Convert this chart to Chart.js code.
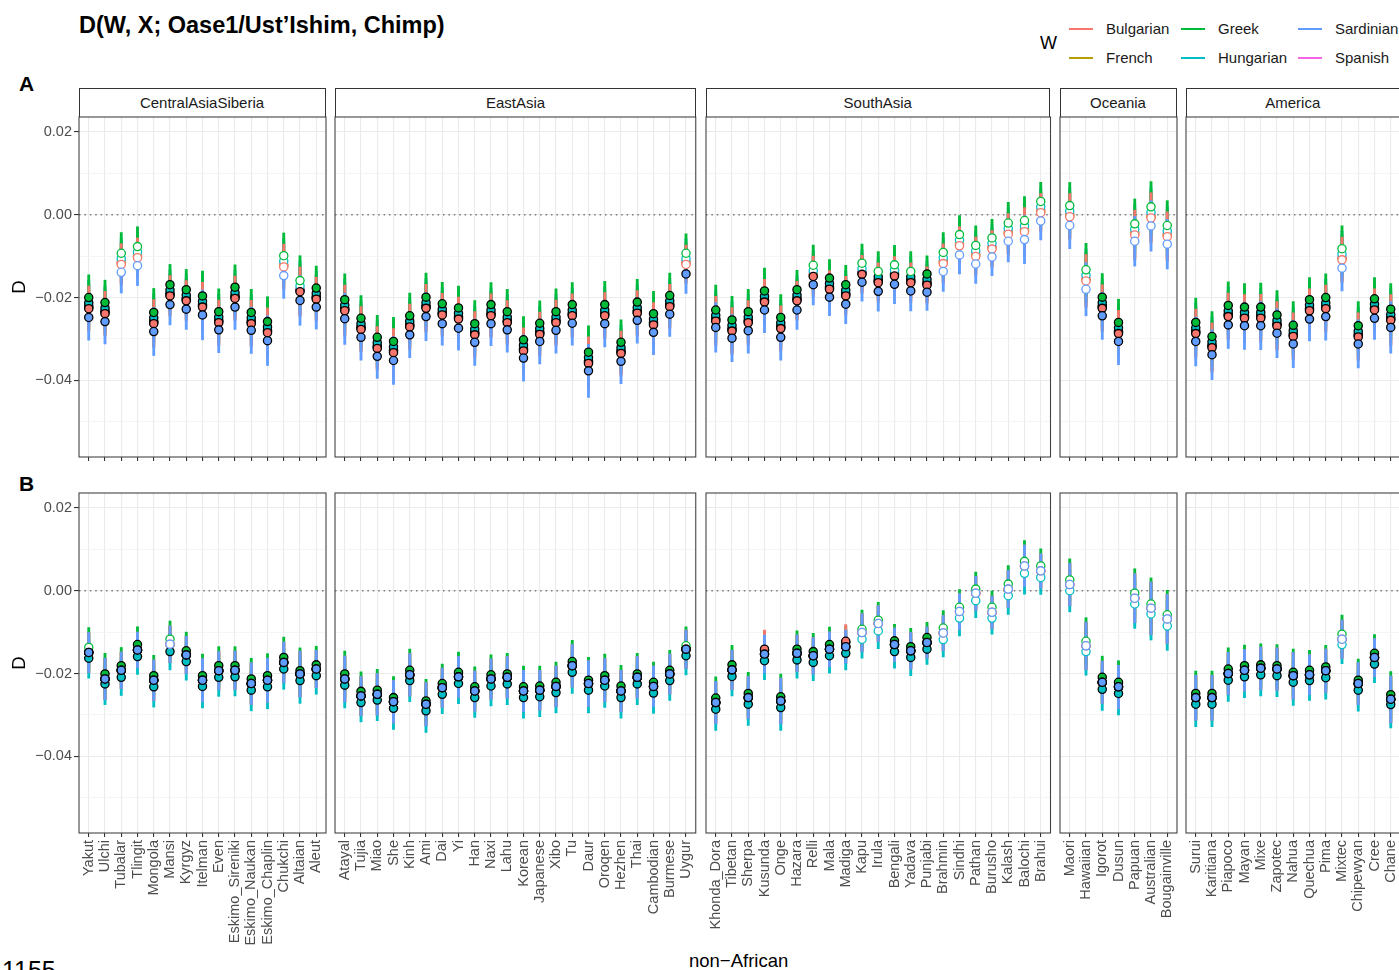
<!DOCTYPE html>
<html>
<head>
<meta charset="utf-8">
<script src="https://cdn.jsdelivr.net/npm/chart.js@4.4.1/dist/chart.umd.min.js"></script>
<style>
  body { margin: 0; width: 1399px; height: 970px; overflow: hidden; background: #fff; position: relative;
         font-family: 'Liberation Sans', Arial, sans-serif; }
  canvas { position: absolute; }
  .txt { position: absolute; white-space: nowrap; }
  .strip { position: absolute; box-sizing: border-box; border: 1px solid #333; border-bottom: none; background: #fff;
           color: #1a1a1a; font-size: 15px; line-height: 28px; text-align: center; }
  .key { position: absolute; height: 2px; width: 24px; }
</style>
</head>
<body>
<script>
// ─── Data ───
const series = ['Bulgarian', 'French', 'Greek', 'Hungarian', 'Sardinian', 'Spanish'];
const seriesColors = ['#F8766D', '#B79F00', '#00BA38', '#00BFC4', '#619CFF', '#F564E3'];

const regions = ['CentralAsiaSiberia', 'EastAsia', 'SouthAsia', 'Oceania', 'America'];
const popsCentralAsiaSiberia = ['Yakut', 'Ulchi', 'Tubalar', 'Tlingit', 'Mongola', 'Mansi', 'Kyrgyz', 'Itelman', 'Even',
  'Eskimo_Sireniki', 'Eskimo_Naukan', 'Eskimo_Chaplin', 'Chukchi', 'Altaian', 'Aleut'];
const popsEastAsia = ['Atayal', 'Tujia', 'Miao', 'She', 'Kinh', 'Ami', 'Dai', 'Yi', 'Han', 'Naxi', 'Lahu', 'Korean',
  'Japanese', 'Xibo', 'Tu', 'Daur', 'Oroqen', 'Hezhen', 'Thai', 'Cambodian', 'Burmese', 'Uygur'];
const popsSouthAsia = ['Khonda_Dora', 'Tibetan', 'Sherpa', 'Kusunda', 'Onge', 'Hazara', 'Relli', 'Mala', 'Madiga', 'Kapu',
  'Irula', 'Bengali', 'Yadava', 'Punjabi', 'Brahmin', 'Sindhi', 'Pathan', 'Burusho', 'Kalash', 'Balochi', 'Brahui'];
const popsOceania = ['Maori', 'Hawaiian', 'Igorot', 'Dusun', 'Papuan', 'Australian', 'Bougainville'];
const popsAmerica = ['Surui', 'Karitiana', 'Piapoco', 'Mayan', 'Mixe', 'Zapotec', 'Nahua', 'Quechua', 'Pima', 'Mixtec',
  'Chipewyan', 'Cree', 'Chane'];

// Panel A (values in population order: CentralAsiaSiberia, EastAsia, SouthAsia, Oceania, America)
const bulgarianA = [
  -0.0227, -0.0239, -0.0120, -0.0104, -0.0263, -0.0196, -0.0208, -0.0223, -0.0261, -0.0202, -0.0263, -0.0285, -0.0126, -0.0186, -0.0204,
  -0.0232, -0.0277, -0.0323, -0.0333, -0.0271, -0.0226, -0.0242, -0.0252, -0.0290, -0.0244, -0.0261, -0.0329, -0.0289, -0.0261, -0.0244, -0.0359, -0.0244, -0.0335, -0.0238, -0.0266, -0.0222, -0.0120,
  -0.0257, -0.0281, -0.0261, -0.0211, -0.0275, -0.0208, -0.0149, -0.0180, -0.0196, -0.0144, -0.0164, -0.0148, -0.0164, -0.0170, -0.0118, -0.0075, -0.0101, -0.0083, -0.0047, -0.0041, 0.0005,
  -0.0005, -0.0160, -0.0226, -0.0287, -0.0049, -0.0008, -0.0053,
  -0.0287, -0.0321, -0.0246, -0.0250, -0.0250, -0.0269, -0.0294, -0.0232, -0.0227, -0.0109, -0.0295, -0.0230, -0.0255];
const frenchA = [
  -0.0224, -0.0236, -0.0117, -0.0101, -0.0260, -0.0193, -0.0205, -0.0220, -0.0258, -0.0199, -0.0260, -0.0282, -0.0123, -0.0183, -0.0201,
  -0.0229, -0.0274, -0.0320, -0.0330, -0.0268, -0.0223, -0.0239, -0.0249, -0.0287, -0.0241, -0.0258, -0.0326, -0.0286, -0.0258, -0.0241, -0.0356, -0.0241, -0.0332, -0.0235, -0.0263, -0.0219, -0.0117,
  -0.0254, -0.0278, -0.0258, -0.0208, -0.0272, -0.0205, -0.0146, -0.0177, -0.0193, -0.0141, -0.0161, -0.0145, -0.0161, -0.0167, -0.0115, -0.0072, -0.0098, -0.0080, -0.0044, -0.0038, 0.0008,
  -0.0002, -0.0157, -0.0223, -0.0284, -0.0046, -0.0005, -0.0050,
  -0.0284, -0.0318, -0.0243, -0.0247, -0.0247, -0.0266, -0.0291, -0.0229, -0.0224, -0.0106, -0.0292, -0.0227, -0.0252];
const greekA = [
  -0.0200, -0.0212, -0.0093, -0.0077, -0.0236, -0.0169, -0.0181, -0.0196, -0.0234, -0.0175, -0.0236, -0.0258, -0.0099, -0.0159, -0.0177,
  -0.0205, -0.0250, -0.0296, -0.0306, -0.0244, -0.0199, -0.0215, -0.0225, -0.0263, -0.0217, -0.0234, -0.0302, -0.0262, -0.0234, -0.0217, -0.0332, -0.0217, -0.0308, -0.0211, -0.0239, -0.0195, -0.0093,
  -0.0230, -0.0254, -0.0234, -0.0184, -0.0248, -0.0181, -0.0122, -0.0153, -0.0169, -0.0117, -0.0137, -0.0121, -0.0137, -0.0143, -0.0091, -0.0048, -0.0074, -0.0056, -0.0020, -0.0014, 0.0032,
  0.0022, -0.0133, -0.0199, -0.0260, -0.0022, 0.0019, -0.0026,
  -0.0260, -0.0294, -0.0219, -0.0223, -0.0223, -0.0242, -0.0267, -0.0205, -0.0200, -0.0082, -0.0268, -0.0203, -0.0228];
const hungarianA = [
  -0.0213, -0.0225, -0.0106, -0.0090, -0.0249, -0.0182, -0.0194, -0.0209, -0.0247, -0.0188, -0.0249, -0.0271, -0.0112, -0.0172, -0.0190,
  -0.0218, -0.0263, -0.0309, -0.0319, -0.0257, -0.0212, -0.0228, -0.0238, -0.0276, -0.0230, -0.0247, -0.0315, -0.0275, -0.0247, -0.0230, -0.0345, -0.0230, -0.0321, -0.0224, -0.0252, -0.0208, -0.0106,
  -0.0243, -0.0267, -0.0247, -0.0197, -0.0261, -0.0194, -0.0135, -0.0166, -0.0182, -0.0130, -0.0150, -0.0134, -0.0150, -0.0156, -0.0104, -0.0061, -0.0087, -0.0069, -0.0033, -0.0027, 0.0019,
  0.0009, -0.0146, -0.0212, -0.0273, -0.0035, 0.0006, -0.0039,
  -0.0273, -0.0307, -0.0232, -0.0236, -0.0236, -0.0255, -0.0280, -0.0218, -0.0213, -0.0095, -0.0281, -0.0216, -0.0241];
const sardinianA = [
  -0.0248, -0.0258, -0.0139, -0.0123, -0.0282, -0.0217, -0.0228, -0.0242, -0.0278, -0.0223, -0.0279, -0.0304, -0.0147, -0.0207, -0.0223,
  -0.0251, -0.0296, -0.0342, -0.0352, -0.0290, -0.0246, -0.0263, -0.0274, -0.0308, -0.0263, -0.0278, -0.0346, -0.0306, -0.0279, -0.0262, -0.0377, -0.0263, -0.0354, -0.0255, -0.0284, -0.0240, -0.0143,
  -0.0272, -0.0298, -0.0280, -0.0230, -0.0296, -0.0230, -0.0169, -0.0199, -0.0216, -0.0163, -0.0185, -0.0168, -0.0184, -0.0187, -0.0137, -0.0097, -0.0119, -0.0102, -0.0064, -0.0060, -0.0015,
  -0.0026, -0.0180, -0.0244, -0.0306, -0.0064, -0.0027, -0.0071,
  -0.0306, -0.0338, -0.0266, -0.0268, -0.0268, -0.0286, -0.0312, -0.0252, -0.0246, -0.0129, -0.0312, -0.0250, -0.0272];
const spanishA = [
  -0.0221, -0.0233, -0.0114, -0.0098, -0.0257, -0.0190, -0.0202, -0.0217, -0.0255, -0.0196, -0.0257, -0.0279, -0.0120, -0.0180, -0.0198,
  -0.0226, -0.0271, -0.0317, -0.0327, -0.0265, -0.0220, -0.0236, -0.0246, -0.0284, -0.0238, -0.0255, -0.0323, -0.0283, -0.0255, -0.0238, -0.0353, -0.0238, -0.0329, -0.0232, -0.0260, -0.0216, -0.0114,
  -0.0251, -0.0275, -0.0255, -0.0205, -0.0269, -0.0202, -0.0143, -0.0174, -0.0190, -0.0138, -0.0158, -0.0142, -0.0158, -0.0164, -0.0112, -0.0069, -0.0095, -0.0077, -0.0041, -0.0035, 0.0011,
  0.0001, -0.0154, -0.0220, -0.0281, -0.0043, -0.0002, -0.0047,
  -0.0281, -0.0315, -0.0240, -0.0244, -0.0244, -0.0263, -0.0288, -0.0226, -0.0221, -0.0103, -0.0289, -0.0224, -0.0249];
const seA = [
  0.0055, 0.0054, 0.0050, 0.0048, 0.0058, 0.0049, 0.0049, 0.0060, 0.0055, 0.0054, 0.0056, 0.0060, 0.0055, 0.0060, 0.0053,
  0.0062, 0.0055, 0.0053, 0.0058, 0.0055, 0.0058, 0.0052, 0.0053, 0.0056, 0.0053, 0.0054, 0.0056, 0.0054, 0.0055, 0.0053, 0.0064, 0.0056, 0.0054, 0.0055, 0.0054, 0.0054, 0.0047,
  0.0060, 0.0057, 0.0054, 0.0055, 0.0055, 0.0047, 0.0049, 0.0045, 0.0047, 0.0046, 0.0048, 0.0047, 0.0048, 0.0044, 0.0048, 0.0046, 0.0047, 0.0045, 0.0050, 0.0058, 0.0046,
  0.0056, 0.0064, 0.0057, 0.0056, 0.0060, 0.0061, 0.0060,
  0.0059, 0.0060, 0.0057, 0.0057, 0.0058, 0.0059, 0.0057, 0.0053, 0.0057, 0.0055, 0.0058, 0.0051, 0.0062];

// Panel B
const bulgarianB = [
  -0.0149, -0.0213, -0.0192, -0.0143, -0.0216, -0.0129, -0.0155, -0.0216, -0.0193, -0.0192, -0.0224, -0.0216, -0.0173, -0.0201, -0.0189,
  -0.0213, -0.0254, -0.0250, -0.0268, -0.0203, -0.0274, -0.0234, -0.0208, -0.0242, -0.0213, -0.0209, -0.0242, -0.0240, -0.0231, -0.0181, -0.0224, -0.0216, -0.0242, -0.0209, -0.0231, -0.0201, -0.0141,
  -0.0270, -0.0191, -0.0258, -0.0141, -0.0266, -0.0151, -0.0157, -0.0141, -0.0122, -0.0101, -0.0079, -0.0130, -0.0145, -0.0125, -0.0102, -0.0050, -0.0006, -0.0052, 0.0004, 0.0060, 0.0048,
  0.0015, -0.0133, -0.0221, -0.0232, -0.0018, -0.0042, -0.0068,
  -0.0258, -0.0258, -0.0200, -0.0192, -0.0187, -0.0189, -0.0205, -0.0203, -0.0193, -0.0117, -0.0224, -0.0161, -0.0262];
const frenchB = [
  -0.0149, -0.0213, -0.0192, -0.0143, -0.0216, -0.0129, -0.0155, -0.0216, -0.0193, -0.0192, -0.0224, -0.0216, -0.0173, -0.0201, -0.0189,
  -0.0213, -0.0254, -0.0250, -0.0268, -0.0203, -0.0274, -0.0234, -0.0208, -0.0242, -0.0213, -0.0209, -0.0242, -0.0240, -0.0231, -0.0181, -0.0224, -0.0216, -0.0242, -0.0209, -0.0231, -0.0201, -0.0141,
  -0.0270, -0.0191, -0.0258, -0.0153, -0.0266, -0.0151, -0.0157, -0.0141, -0.0135, -0.0101, -0.0079, -0.0130, -0.0145, -0.0125, -0.0102, -0.0050, -0.0006, -0.0052, 0.0004, 0.0060, 0.0048,
  0.0015, -0.0133, -0.0221, -0.0232, -0.0018, -0.0042, -0.0068,
  -0.0258, -0.0258, -0.0200, -0.0192, -0.0187, -0.0189, -0.0205, -0.0203, -0.0193, -0.0117, -0.0224, -0.0161, -0.0262];
const greekB = [
  -0.0137, -0.0201, -0.0181, -0.0130, -0.0205, -0.0117, -0.0145, -0.0205, -0.0181, -0.0181, -0.0213, -0.0205, -0.0161, -0.0193, -0.0179,
  -0.0201, -0.0243, -0.0240, -0.0258, -0.0192, -0.0266, -0.0224, -0.0197, -0.0232, -0.0203, -0.0201, -0.0232, -0.0230, -0.0221, -0.0171, -0.0216, -0.0205, -0.0230, -0.0201, -0.0221, -0.0192, -0.0133,
  -0.0259, -0.0179, -0.0248, -0.0144, -0.0256, -0.0141, -0.0147, -0.0130, -0.0125, -0.0093, -0.0071, -0.0121, -0.0135, -0.0113, -0.0090, -0.0040, 0.0004, -0.0040, 0.0016, 0.0071, 0.0060,
  0.0026, -0.0122, -0.0209, -0.0221, -0.0006, -0.0032, -0.0058,
  -0.0248, -0.0248, -0.0189, -0.0181, -0.0179, -0.0181, -0.0197, -0.0192, -0.0184, -0.0105, -0.0216, -0.0151, -0.0251];
const hungarianB = [
  -0.0163, -0.0225, -0.0209, -0.0159, -0.0232, -0.0147, -0.0171, -0.0231, -0.0209, -0.0208, -0.0240, -0.0232, -0.0189, -0.0217, -0.0205,
  -0.0228, -0.0270, -0.0264, -0.0284, -0.0217, -0.0290, -0.0250, -0.0224, -0.0258, -0.0230, -0.0225, -0.0258, -0.0256, -0.0246, -0.0197, -0.0240, -0.0230, -0.0258, -0.0225, -0.0247, -0.0217, -0.0157,
  -0.0286, -0.0207, -0.0274, -0.0169, -0.0282, -0.0167, -0.0173, -0.0157, -0.0151, -0.0117, -0.0097, -0.0147, -0.0161, -0.0141, -0.0118, -0.0066, -0.0024, -0.0066, -0.0012, 0.0042, 0.0032,
  0.0000, -0.0147, -0.0238, -0.0248, -0.0032, -0.0056, -0.0085,
  -0.0274, -0.0274, -0.0216, -0.0208, -0.0203, -0.0205, -0.0221, -0.0217, -0.0210, -0.0130, -0.0240, -0.0177, -0.0275];
const sardinianB = [
  -0.0149, -0.0213, -0.0192, -0.0143, -0.0216, -0.0129, -0.0155, -0.0216, -0.0193, -0.0192, -0.0224, -0.0216, -0.0173, -0.0201, -0.0189,
  -0.0213, -0.0254, -0.0250, -0.0268, -0.0203, -0.0274, -0.0234, -0.0208, -0.0242, -0.0213, -0.0209, -0.0242, -0.0240, -0.0231, -0.0181, -0.0224, -0.0216, -0.0242, -0.0209, -0.0231, -0.0201, -0.0141,
  -0.0270, -0.0191, -0.0258, -0.0153, -0.0266, -0.0151, -0.0157, -0.0141, -0.0135, -0.0101, -0.0079, -0.0130, -0.0145, -0.0125, -0.0102, -0.0050, -0.0006, -0.0052, 0.0004, 0.0060, 0.0048,
  0.0015, -0.0133, -0.0221, -0.0232, -0.0018, -0.0042, -0.0068,
  -0.0258, -0.0258, -0.0200, -0.0192, -0.0187, -0.0189, -0.0205, -0.0203, -0.0193, -0.0117, -0.0224, -0.0161, -0.0262];
const spanishB = [
  -0.0150, -0.0214, -0.0193, -0.0144, -0.0217, -0.0130, -0.0156, -0.0217, -0.0194, -0.0193, -0.0225, -0.0217, -0.0174, -0.0202, -0.0190,
  -0.0214, -0.0255, -0.0251, -0.0269, -0.0204, -0.0275, -0.0235, -0.0209, -0.0243, -0.0214, -0.0210, -0.0243, -0.0241, -0.0232, -0.0182, -0.0225, -0.0217, -0.0243, -0.0210, -0.0232, -0.0202, -0.0142,
  -0.0271, -0.0192, -0.0259, -0.0154, -0.0267, -0.0152, -0.0158, -0.0142, -0.0136, -0.0102, -0.0080, -0.0131, -0.0146, -0.0126, -0.0103, -0.0051, -0.0007, -0.0053, 0.0003, 0.0059, 0.0047,
  0.0014, -0.0134, -0.0222, -0.0233, -0.0019, -0.0043, -0.0069,
  -0.0259, -0.0259, -0.0201, -0.0193, -0.0188, -0.0190, -0.0206, -0.0204, -0.0194, -0.0118, -0.0225, -0.0162, -0.0263];
const seB = [
  0.0048, 0.0050, 0.0044, 0.0043, 0.0049, 0.0044, 0.0045, 0.0052, 0.0046, 0.0046, 0.0050, 0.0053, 0.0049, 0.0055, 0.0045,
  0.0055, 0.0047, 0.0050, 0.0051, 0.0051, 0.0052, 0.0047, 0.0049, 0.0048, 0.0048, 0.0050, 0.0050, 0.0048, 0.0049, 0.0051, 0.0055, 0.0052, 0.0050, 0.0050, 0.0049, 0.0048, 0.0046,
  0.0051, 0.0047, 0.0051, 0.0046, 0.0055, 0.0044, 0.0044, 0.0042, 0.0040, 0.0046, 0.0043, 0.0040, 0.0044, 0.0037, 0.0042, 0.0043, 0.0041, 0.0039, 0.0045, 0.0050, 0.0041,
  0.0051, 0.0057, 0.0051, 0.0052, 0.0059, 0.0063, 0.0059,
  0.0054, 0.0054, 0.0051, 0.0050, 0.0051, 0.0051, 0.0056, 0.0048, 0.0052, 0.0046, 0.0051, 0.0045, 0.0056];

const yTicks = [0.02, 0.01, 0, -0.01, -0.02, -0.03, -0.04, -0.05];
const yTickLabels = ['0.02', '', '0.00', '', '\u22120.02', '', '\u22120.04', ''];

// ─── Layout ───
const SPACING = 16.25;
const PANEL_LEFT = [78.5, 335.2, 705.5, 1059.5, 1185.5];
const ROW_TOP = [117, 493];
const PLOT_H = 340;
const Y_MIN = -0.0585, Y_MAX = 0.0236;
const Y_AXIS_W = 70;
const PAD = 3;
// drawing order: lower is drawn on top
const drawOrder = [2, 5, 3, 4, 1, 6];

Chart.defaults.font.family = "'Liberation Sans', Arial, sans-serif";
Chart.defaults.font.size = 14.5;
Chart.defaults.color = '#4D4D4D';
Chart.defaults.animation = false;

const regionPops = [popsCentralAsiaSiberia, popsEastAsia, popsSouthAsia, popsOceania, popsAmerica];
const regionStart = [];
regionPops.reduce((acc, p) => { regionStart.push(acc); return acc + p.length; }, 0);

const rows = [
  { label: 'A', values: [bulgarianA, frenchA, greekA, hungarianA, sardinianA, spanishA], se: seA },
  { label: 'B', values: [bulgarianB, frenchB, greekB, hungarianB, sardinianB, spanishB], se: seB },
];

const isSig = p => p && Math.abs(p.y) > 3 * p.se;

// keep the plot area fixed: no extra room for overhanging tick labels
function noOverhang(s) {
  s.paddingTop = 0;
  s.paddingBottom = 0;
  s.paddingLeft = 0;
  s.paddingRight = 0;
}

const panelFrame = {
  id: 'panelFrame',
  beforeDatasetsDraw(chart) {
    const { ctx, chartArea: a, scales: { y } } = chart;
    const y0 = y.getPixelForValue(0);
    ctx.save();
    ctx.strokeStyle = '#7a7a7a';
    ctx.lineWidth = 1.5;
    ctx.setLineDash([1.5, 3.9]);
    ctx.beginPath();
    ctx.moveTo(a.left, y0);
    ctx.lineTo(a.right, y0);
    ctx.stroke();
    ctx.restore();
  },
  afterDraw(chart) {
    const { ctx, chartArea: a } = chart;
    ctx.save();
    ctx.strokeStyle = '#444';
    ctx.lineWidth = 1.1;
    ctx.strokeRect(a.left, a.top, a.right - a.left, a.bottom - a.top);
    ctx.restore();
  },
};

function addText(text, css) {
  const d = document.createElement('div');
  d.className = 'txt';
  d.textContent = text;
  Object.assign(d.style, css);
  document.body.appendChild(d);
  return d;
}

function buildPanel(row, r) {
  const pops = regionPops[r];
  const start = regionStart[r];
  const n = pops.length;
  const plotW = (n + 0.2) * SPACING;
  const axisW = r === 0 ? Y_AXIS_W : 0;
  const axisH = row === 1 ? 128 : 6;
  const w = Math.ceil(plotW + axisW + 2 * PAD);
  const h = PLOT_H + axisH + PAD;
  const padRight = w - PAD - axisW - plotW;

  const canvas = document.createElement('canvas');
  canvas.width = w;
  canvas.height = h;
  canvas.style.left = (PANEL_LEFT[r] - axisW - PAD) + 'px';
  canvas.style.top = (ROW_TOP[row] - PAD) + 'px';
  document.body.appendChild(canvas);

  const rowData = rows[row];
  const errs = rowData.se.slice(start, start + n);
  const datasets = [];
  series.forEach((name, k) => {
    const vals = rowData.values[k].slice(start, start + n);
    datasets.push({
      type: 'bar',
      label: name + ' SE',
      data: vals.map((v, i) => ({ x: i, y: [v - errs[i], v + errs[i]] })),
      backgroundColor: seriesColors[k],
      borderWidth: 0,
      barThickness: 2.2,
      grouped: false,
      order: 10 + drawOrder[k],
    });
    datasets.push({
      type: 'scatter',
      label: name,
      data: vals.map((v, i) => ({ x: i, y: v, se: errs[i] })),
      order: drawOrder[k],
      pointRadius: 4.1,
      pointBorderWidth: 1.3,
      pointBackgroundColor: c => (isSig(c.raw) ? seriesColors[k] : '#FFFFFF'),
      pointBorderColor: c => (isSig(c.raw) ? '#000000' : seriesColors[k]),
    });
  });

  return new Chart(canvas, {
    type: 'scatter',
    data: { datasets },
    plugins: [panelFrame],
    options: {
      responsive: false,
      events: [],
      layout: { autoPadding: false, padding: { left: PAD, top: PAD, right: padRight, bottom: 0 } },
      plugins: { legend: { display: false }, tooltip: { enabled: false } },
      scales: {
        x: {
          type: 'linear',
          min: -0.6,
          max: n - 0.4,
          offset: false,
          bounds: 'data',
          afterBuildTicks: s => { s.ticks = pops.map((_, i) => ({ value: i })); },
          afterFit: s => { s.height = axisH; noOverhang(s); },
          ticks: {
            display: row === 1,
            autoSkip: false,
            minRotation: 90,
            maxRotation: 90,
            padding: 3,
            color: '#4D4D4D',
            callback: v => pops[v],
          },
          grid: { color: '#EBEBEB', lineWidth: 1.1, offset: false, drawTicks: true, tickLength: 4, tickColor: '#333333', tickWidth: 1.1 },
          border: { display: false },
        },
        y: {
          type: 'linear',
          min: Y_MIN,
          max: Y_MAX,
          bounds: 'data',
          afterBuildTicks: s => { s.ticks = yTicks.map(v => ({ value: v })); },
          afterFit: s => { s.width = axisW; noOverhang(s); },
          ticks: {
            display: r === 0,
            padding: 2,
            color: '#4D4D4D',
            callback: v => yTickLabels[yTicks.indexOf(v)],
          },
          grid: {
            color: c => (yTickLabels[c.index] ? '#EBEBEB' : '#F2F2F2'),
            lineWidth: c => (yTickLabels[c.index] ? 1.1 : 0.8),
            drawTicks: r === 0,
            tickLength: 5,
            tickWidth: 1.1,
            tickColor: c => (yTickLabels[c.index] ? '#333333' : 'rgba(0,0,0,0)'),
          },
          border: { display: false },
          title: { display: r === 0, text: 'D', color: '#000', font: { size: 18.5 }, padding: 0 },
        },
      },
    },
  });
}

// ─── Page text ───
addText('D(W, X; Oase1/Ust\u2019Ishim, Chimp)', { left: '79px', top: '12px', fontSize: '23.5px', fontWeight: 'bold', color: '#000' });
addText('A', { left: '19px', top: '72px', fontSize: '21px', fontWeight: 'bold', color: '#000' });
addText('B', { left: '19px', top: '472px', fontSize: '21px', fontWeight: 'bold', color: '#000' });
addText('non\u2212African', { left: '689px', top: '950px', fontSize: '18.5px', color: '#000' });
addText('1155', { left: '2px', top: '956px', fontSize: '25px', color: '#000' });

// strips for the top row
regions.forEach((name, r) => {
  const d = document.createElement('div');
  d.className = 'strip';
  d.textContent = name;
  d.style.left = PANEL_LEFT[r] + 'px';
  d.style.top = '88px';
  d.style.width = ((regionPops[r].length + 0.2) * SPACING) + 'px';
  d.style.height = '29px';
  document.body.appendChild(d);
});

// legend
const legendColX = [1069, 1181, 1298];
const legendRowY = [29, 58];
addText('W', { left: '1040px', top: '33px', fontSize: '18px', color: '#000' });
series.forEach((name, k) => {
  const cx = legendColX[Math.floor(k / 2)];
  const cy = legendRowY[k % 2];
  const key = document.createElement('div');
  key.className = 'key';
  key.style.left = cx + 'px';
  key.style.top = (cy - 1) + 'px';
  key.style.background = seriesColors[k];
  document.body.appendChild(key);
  addText(name, { left: (cx + 37) + 'px', top: (cy - 9) + 'px', fontSize: '15px', color: '#1a1a1a' });
});

for (let row = 0; row < 2; row++) {
  for (let r = 0; r < regions.length; r++) buildPanel(row, r);
}
</script>
</body>
</html>
